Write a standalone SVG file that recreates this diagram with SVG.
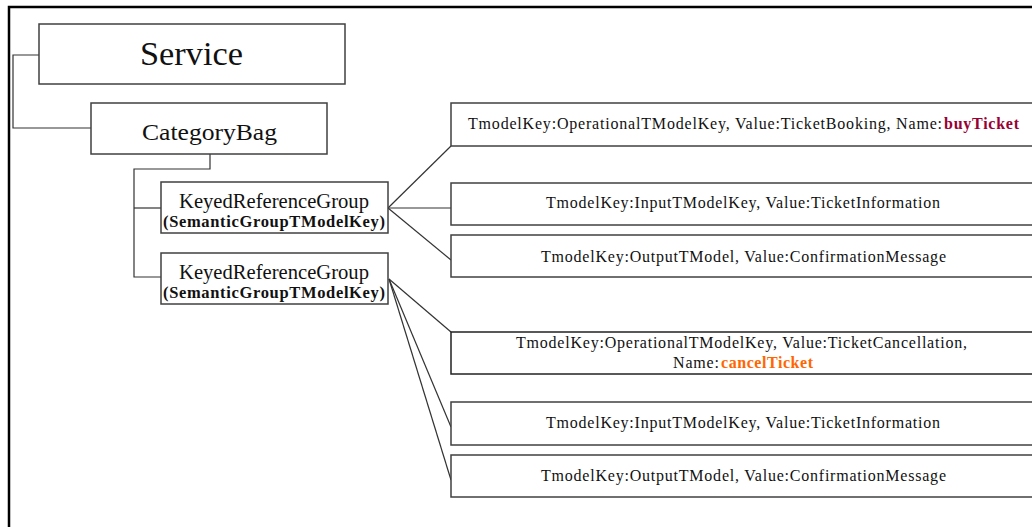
<svg xmlns="http://www.w3.org/2000/svg" width="1032" height="527" viewBox="0 0 1032 527">
<style>
.box{fill:#fff;stroke:#404040;stroke-width:1.5}
.t{font-family:"Liberation Serif","Times New Roman",serif;fill:#111}
.r{font-size:16px}
.b{font-weight:bold}
.con{fill:none;stroke:#333;stroke-width:1.2}
</style>
<rect x="0" y="0" width="1032" height="527" fill="#fff"/>
<path d="M9,527 V7 H1032" fill="none" stroke="#000" stroke-width="2.5"/>
<g id="connectors">
<polyline class="con" points="39,55 13,55 13,128 91,128"/>
<polyline class="con" points="210,154 210,169 134,169 134,277 161,277"/>
<line class="con" x1="134" y1="208" x2="161" y2="208"/>
<line class="con" x1="388" y1="208" x2="451" y2="146"/>
<line class="con" x1="388" y1="208" x2="451" y2="208"/>
<line class="con" x1="388" y1="208" x2="451" y2="260"/>
<line class="con" x1="389" y1="279" x2="451" y2="332"/>
<line class="con" x1="389" y1="279" x2="451" y2="427"/>
<line class="con" x1="389" y1="279" x2="451" y2="480"/>
</g>
<g id="service">
<rect class="box" x="39" y="24" width="306" height="60"/>
<text class="t" x="140" y="65" font-size="33" textLength="103" lengthAdjust="spacingAndGlyphs">Service</text>
</g>
<g id="categorybag">
<rect class="box" x="91" y="103" width="236" height="51"/>
<text class="t" x="142" y="140" font-size="24" textLength="135" lengthAdjust="spacingAndGlyphs">CategoryBag</text>
</g>
<g id="krg1">
<rect class="box" x="161" y="182" width="227" height="51"/>
<text class="t" x="179" y="208" font-size="20" textLength="190" lengthAdjust="spacingAndGlyphs">KeyedReferenceGroup</text>
<text class="t b" x="163" y="227" font-size="16.5" textLength="222" lengthAdjust="spacing">(SemanticGroupTModelKey)</text>
</g>
<g id="krg2">
<rect class="box" x="161" y="253" width="227" height="51"/>
<text class="t" x="179" y="279" font-size="20" textLength="190" lengthAdjust="spacingAndGlyphs">KeyedReferenceGroup</text>
<text class="t b" x="163" y="298" font-size="16.5" textLength="222" lengthAdjust="spacing">(SemanticGroupTModelKey)</text>
</g>
<g id="op-buy">
<rect class="box" x="451" y="103" width="590" height="43"/>
<text class="t r" x="468" y="129" textLength="474" lengthAdjust="spacing">TmodelKey:OperationalTModelKey, Value:TicketBooking, Name:</text>
<text class="t r b" x="944" y="129" style="fill:#990033" textLength="75" lengthAdjust="spacing">buyTicket</text>
</g>
<g id="input-buy">
<rect class="box" x="451" y="183" width="590" height="42"/>
<text class="t r" x="546" y="208" textLength="394" lengthAdjust="spacing">TmodelKey:InputTModelKey, Value:TicketInformation</text>
</g>
<g id="output-buy">
<rect class="box" x="451" y="235" width="590" height="42"/>
<text class="t r" x="541" y="262" textLength="405" lengthAdjust="spacing">TmodelKey:OutputTModel, Value:ConfirmationMessage</text>
</g>
<g id="op-cancel">
<rect class="box" x="451" y="332" width="590" height="42" style="stroke:#222"/>
<text class="t r" x="516" y="348" textLength="451" lengthAdjust="spacing">TmodelKey:OperationalTModelKey, Value:TicketCancellation,</text>
<text class="t r" x="673" y="368" textLength="46" lengthAdjust="spacing">Name:</text>
<text class="t r b" x="721" y="368" style="fill:#ff6600" textLength="92" lengthAdjust="spacing">cancelTicket</text>
</g>
<g id="input-cancel">
<rect class="box" x="451" y="402" width="590" height="43"/>
<text class="t r" x="546" y="428" textLength="394" lengthAdjust="spacing">TmodelKey:InputTModelKey, Value:TicketInformation</text>
</g>
<g id="output-cancel">
<rect class="box" x="451" y="455" width="590" height="42"/>
<text class="t r" x="541" y="481" textLength="405" lengthAdjust="spacing">TmodelKey:OutputTModel, Value:ConfirmationMessage</text>
</g>
</svg>
